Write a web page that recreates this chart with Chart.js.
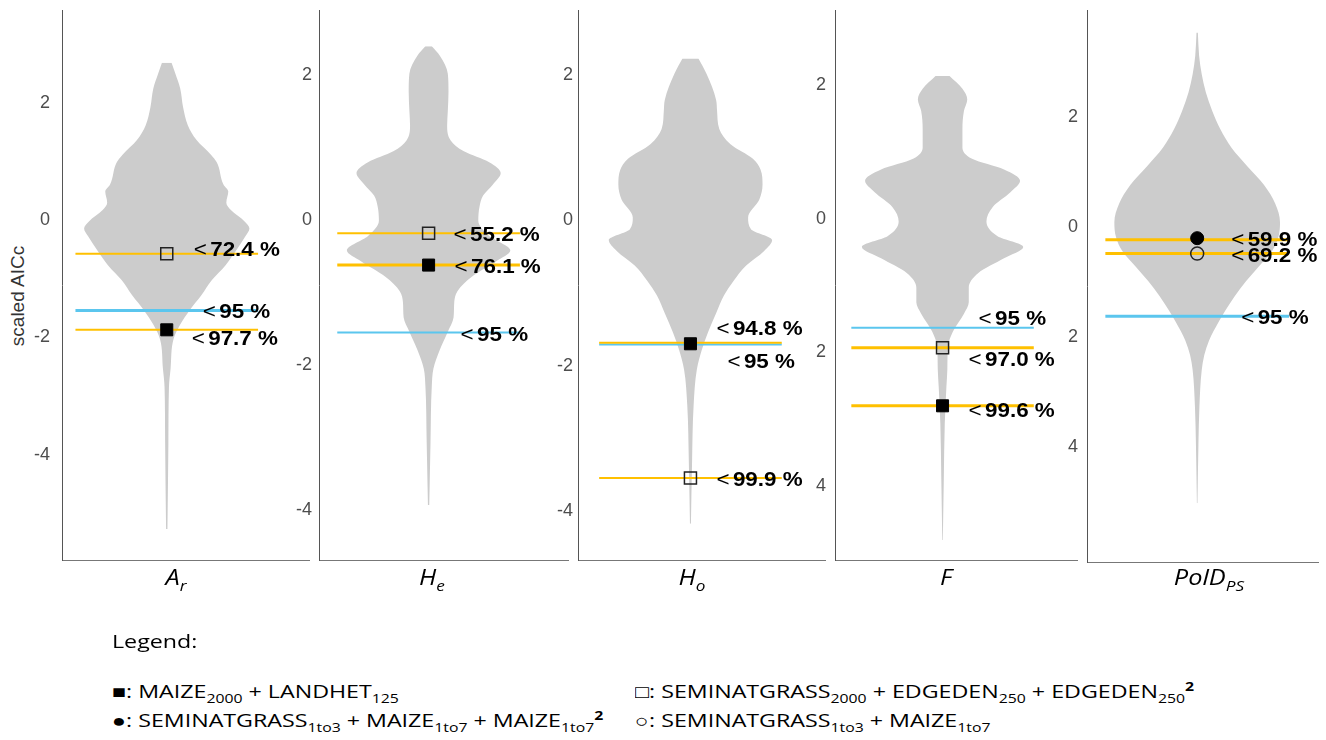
<!DOCTYPE html>
<html lang="en">
<head>
<meta charset="utf-8" />
<title>scaled AICc</title>
<script src="https://cdn.jsdelivr.net/npm/chart.js@4.4.1/dist/chart.umd.min.js"></script>
<style>
    body { margin: 0; background: #fff; }
    #stage { position: relative; width: 1326px; height: 740px; overflow: hidden; }
    #stage canvas { position: absolute; top: 0; }
    .xlab { position: absolute; top: 565px; font: italic 22px "Open Sans", sans-serif; line-height: 22px;
            white-space: nowrap; color: #000; transform: translateX(-50%) scaleX(1.15); }
    .ytitle { position: absolute; left: 18px; top: 296px; font: 19px "Liberation Sans", sans-serif; color: #333;
              white-space: nowrap; transform: translate(-50%, -50%) rotate(-90deg); }
    .leg { position: absolute; font: 18px "Open Sans", sans-serif; line-height: 18px; white-space: nowrap;
           color: #000; transform-origin: 0 0; transform: scaleX(1.29); }
    sub, sup { font-size: 0.68em; line-height: 0; position: relative; vertical-align: baseline; }
    sub { top: 0.38em; }
    sup { top: -0.55em; font-weight: bold; }
</style>
</head>
<body>
<div id="stage"><div class="ytitle">scaled AICc</div></div>

<script>
// ---- values ----
var panelNames = [['A', 'r'], ['H', 'e'], ['H', 'o'], ['F', ''], ['PolD', 'PS']];
var tickValues = [2, 0, -2, -4];
var tickLabels = [
    ['2', '0', '-2', '-4'],
    ['2', '0', '-2', '-4'],
    ['2', '0', '-2', '-4'],
    ['2', '0', '2', '4'],
    ['2', '0', '2', '4']
];

// violin outlines: scaled AICc value and half width of the density
var arY = [2.69, 2.50, 2.25, 1.93, 1.62, 1.37, 1.12, 0.99, 0.61, 0.49, 0.30, 0.17, -0.02, -0.14, -0.27, -0.52, -0.77, -1.02, -1.28, -1.53, -1.78, -2.03, -2.53, -2.85, -3.79, -5.27];
var arW = [5, 9, 14, 17, 22, 31, 46, 52, 59, 64, 62, 67, 81, 86, 82, 72, 61, 47, 36, 24, 14, 7, 4, 2.3, 1.7, 0.7];
var heY = [2.40, 2.27, 2.02, 1.77, 1.51, 1.31, 1.10, 0.95, 0.80, 0.65, 0.49, 0.34, 0.19, -0.01, -0.22, -0.42, -0.57, -0.78, -0.98, -1.13, -1.34, -1.54, -1.79, -2.05, -2.30, -3.06, -3.93];
var heW = [3.3, 11.7, 20, 20.7, 20, 19.3, 23, 36.7, 63, 75, 66.7, 56.7, 53, 51.7, 63, 85, 70, 45, 30, 26.7, 26, 20, 11.7, 5, 3.3, 2, 0.7];
var hoY = [2.23, 2.02, 1.66, 1.51, 1.26, 1.05, 0.85, 0.70, 0.49, 0.29, 0.04, -0.12, -0.27, -0.42, -0.62, -0.83, -1.03, -1.28, -1.54, -1.79, -2.05, -2.55, -3.32, -4.18];
var hoW = [8.3, 16.7, 26.7, 27.7, 30, 41.7, 65, 73, 75, 71.7, 60, 63, 85, 76.7, 58, 45, 35, 26.7, 18.3, 11.7, 6.7, 3.3, 1.7, 0.5];
var fY = [2.14, 1.95, 1.79, 1.62, 1.34, 1.07, 0.90, 0.74, 0.57, 0.40, 0.18, -0.04, -0.26, -0.42, -0.59, -0.81, -1.03, -1.25, -1.42, -1.69, -1.91, -2.25, -2.52, -3.07, -3.90, -4.81];
var fW = [7.3, 20.7, 25.7, 22.3, 20.7, 20.7, 30.7, 64, 80.7, 70.7, 52.3, 45.7, 57.3, 84, 64, 37.3, 27.3, 27.3, 22.3, 10.7, 5.7, 5, 4, 2.3, 1.3, 0.3];
var pdY = [3.53, 3.11, 2.77, 2.44, 2.10, 1.77, 1.43, 1.09, 0.76, 0.42, 0.08, -0.19, -0.45, -0.72, -0.99, -1.26, -1.53, -1.73, -2.07, -2.34, -2.61, -3.28, -3.95, -5.03];
var pdW = [0.7, 2, 4.7, 9, 15.7, 24, 35.7, 52.3, 69, 80.7, 85.7, 84, 77.3, 64, 50.7, 39, 29, 22.3, 12.3, 7.3, 4.7, 2.3, 1.3, 0.3];

// threshold lines (model = yellow, null = blue)
var arCut = [-0.57, -1.54, -1.87];
var arCutKind = ['model', 'null', 'model'];
var arCutText = ['<72.4 %', '<95 %', '<97.7 %'];
var heCut = [-0.18, -0.62, -1.55];
var heCutKind = ['model', 'model', 'null'];
var heCutText = ['<55.2 %', '<76.1 %', '<95 %'];
var hoCut = [-1.685, -1.71, -3.55];
var hoCutKind = ['model', 'null', 'model'];
var hoCutText = ['<94.8 %', '<95 %', '<99.9 %'];
var fCut = [-1.63, -1.93, -2.80];
var fCutKind = ['null', 'model', 'model'];
var fCutText = ['<95 %', '<97.0 %', '<99.6 %'];
var pdCut = [-0.24, -0.49, -1.63];
var pdCutKind = ['model', 'model', 'null'];
var pdCutText = ['<59.9 %', '<69.2 %', '<95 %'];

// best models
var arMark = [-0.57, -1.87];
var arMarkKind = ['openSquare', 'square'];
var heMark = [-0.18, -0.62];
var heMarkKind = ['openSquare', 'square'];
var hoMark = [-1.70, -3.55];
var hoMarkKind = ['square', 'openSquare'];
var fMark = [-1.93, -2.80];
var fMarkKind = ['openSquare', 'square'];
var pdMark = [-0.21, -0.49];
var pdMarkKind = ['circle', 'openCircle'];

// ---- layout and styles ----
var axisLeft = [62, 319, 578, 835, 1087];
var axisRight = [319, 578, 835, 1087, 1326];
var centre = [171, 433, 695, 947, 1201];
var yRange = [[-5.80, 3.59], [-4.69, 2.90], [-4.68, 2.90], [-5.11, 3.13], [-6.10, 3.94]];
var tickPad = [12, 7, 5, 9, 9];
var xlabCentre = [176, 432, 692, 946, 1209];
var cutHalf = 95;
var cutWidth = [[2, 3, 2], [2, 3, 2], [2, 2, 2], [2, 3, 3], [3, 3, 3]];
// label offset from the violin centre and from its line: [dx, dy of the text's middle]
var nudge = [
    [[27, -4.8], [36, 0.7], [25, 8.2]],
    [[25, 1], [26, 1], [32, 1]],
    [[26, -15], [37, 16], [26, 0.5]],
    [[36, -9.5], [26, 11], [26, 3.7]],
    [[34, -1], [34, 1], [44, 1]]
];
var cutColour = { model: '#FFC000', 'null': '#5BC6EE' };
var labelStretch = 1.12;
var labelSize = 20;
var lessGap = 3;

var panels = [
    { vy: arY, vw: arW, cut: arCut, kind: arCutKind, text: arCutText, mark: arMark, markKind: arMarkKind },
    { vy: heY, vw: heW, cut: heCut, kind: heCutKind, text: heCutText, mark: heMark, markKind: heMarkKind },
    { vy: hoY, vw: hoW, cut: hoCut, kind: hoCutKind, text: hoCutText, mark: hoMark, markKind: hoMarkKind },
    { vy: fY, vw: fW, cut: fCut, kind: fCutKind, text: fCutText, mark: fMark, markKind: fMarkKind },
    { vy: pdY, vw: pdW, cut: pdCut, kind: pdCutKind, text: pdCutText, mark: pdMark, markKind: pdMarkKind }
];

var stage = document.getElementById('stage');
var tickFont = { family: 'Liberation Sans', size: 18 };

function labelPlugin(k, p) {
    return {
        id: 'cutLabels' + k,
        afterDatasetsDraw: function (chart) {
            var ctx = chart.ctx, xs = chart.scales.x, ys = chart.scales.y;
            ctx.save();
            ctx.fillStyle = '#000';
            ctx.textBaseline = 'alphabetic';
            p.text.forEach(function (t, i) {
                var x = xs.getPixelForValue(0) + nudge[k][i][0];
                var y = ys.getPixelForValue(p.cut[i]) + nudge[k][i][1] + labelSize * 0.36;
                ctx.save();
                ctx.translate(x, y);
                ctx.scale(labelStretch, 1);
                // the "<" is set lighter than the number
                ctx.font = labelSize + 'px "Liberation Sans"';
                ctx.fillText(t.charAt(0), 0, 0);
                var w = ctx.measureText(t.charAt(0)).width + lessGap;
                ctx.font = 'bold ' + labelSize + 'px "Liberation Sans"';
                ctx.fillText(t.slice(1), w, 0);
                ctx.restore();
            });
            ctx.restore();
        }
    };
}

function noPadding(s) {
    s.paddingTop = 0;
    s.paddingBottom = 0;
    s.paddingLeft = 0;
    s.paddingRight = 0;
}

panels.forEach(function (p, k) {
    var labW = k === 0 ? 62 : 50;
    var cv = document.createElement('canvas');
    cv.width = axisRight[k] - axisLeft[k] + labW;
    cv.height = 570;
    cv.style.left = (axisLeft[k] - labW) + 'px';
    stage.appendChild(cv);

    var datasets = [];
    // left and right halves of the violin, filled between
    datasets.push({ data: p.vy.map(function (v, i) { return { x: -p.vw[i], y: v }; }),
        borderWidth: 0, borderColor: 'rgba(0,0,0,0)', pointRadius: 0, cubicInterpolationMode: 'monotone', order: 3 });
    datasets.push({ data: p.vy.map(function (v, i) { return { x: p.vw[i], y: v }; }),
        borderWidth: 0, borderColor: 'rgba(0,0,0,0)', pointRadius: 0, cubicInterpolationMode: 'monotone',
        fill: '-1', backgroundColor: '#cccccc', order: 3 });
    p.cut.forEach(function (v, i) {
        datasets.push({ data: [{ x: -cutHalf, y: v }, { x: cutHalf, y: v }],
            borderColor: cutColour[p.kind[i]], borderWidth: cutWidth[k][i], pointRadius: 0, fill: false,
            order: p.kind[i] === 'null' ? 2.5 : 2 });
    });
    p.mark.forEach(function (v, i) {
        var kind = p.markKind[i];
        var isRect = kind.indexOf('quare') > 0;
        var open = kind.indexOf('open') === 0;
        datasets.push({ data: [{ x: 0, y: v }], showLine: false,
            pointStyle: isRect ? 'rect' : 'circle', pointRadius: isRect ? 8.5 : 6.5,
            pointBackgroundColor: open ? 'rgba(0,0,0,0)' : '#000', pointBorderColor: open ? '#222' : '#000',
            pointBorderWidth: open ? 1.5 : 1, order: 1 });
    });

    new Chart(cv.getContext('2d'), {
        type: 'line',
        data: { datasets: datasets },
        options: {
            indexAxis: 'y',
            responsive: false,
            animation: false,
            devicePixelRatio: 1,
            events: [],
            layout: { padding: { top: 10, bottom: 8, left: 0, right: 0 } },
            plugins: { legend: { display: false }, tooltip: { enabled: false } },
            scales: {
                x: {
                    type: 'linear',
                    min: -(centre[k] - axisLeft[k]),
                    max: axisRight[k] - centre[k],
                    ticks: { display: false },
                    grid: { display: false, drawTicks: false },
                    border: { display: true, color: '#777', width: 1 },
                    afterFit: function (s) { s.height = 0; noPadding(s); }
                },
                y: {
                    type: 'linear',
                    min: yRange[k][0],
                    max: yRange[k][1],
                    afterBuildTicks: function (s) { s.ticks = tickValues.map(function (v) { return { value: v }; }); },
                    afterFit: function (s) { s.width = labW; noPadding(s); },
                    ticks: {
                        padding: tickPad[k],
                        color: '#4d4d4d',
                        font: tickFont,
                        callback: function (v, i) { return tickLabels[k][i]; }
                    },
                    grid: { display: false, drawTicks: false },
                    border: { display: true, color: '#555', width: 1 }
                }
            }
        },
        plugins: [labelPlugin(k, p)]
    });

    var xl = document.createElement('div');
    xl.className = 'xlab';
    xl.style.left = xlabCentre[k] + 'px';
    xl.innerHTML = panelNames[k][0] + (panelNames[k][1] ? '<sub>' + panelNames[k][1] + '</sub>' : '');
    stage.appendChild(xl);
});

var legendRows = [
    [112, 632, 'Legend:'],
    [112, 682, '&#9632;: MAIZE<sub>2000</sub> + LANDHET<sub>125</sub>'],
    [112, 711, '&#9679;: SEMINATGRASS<sub>1to3</sub> + MAIZE<sub>1to7</sub> + MAIZE<sub>1to7</sub><sup>2</sup>'],
    [635, 682, '&#9633;: SEMINATGRASS<sub>2000</sub> + EDGEDEN<sub>250</sub> + EDGEDEN<sub>250</sub><sup>2</sup>'],
    [635, 711, '&#9675;: SEMINATGRASS<sub>1to3</sub> + MAIZE<sub>1to7</sub>']
];
legendRows.forEach(function (r) {
    var d = document.createElement('div');
    d.className = 'leg';
    d.style.left = r[0] + 'px';
    d.style.top = r[1] + 'px';
    d.innerHTML = r[2];
    stage.appendChild(d);
});
</script>
</body>
</html>
